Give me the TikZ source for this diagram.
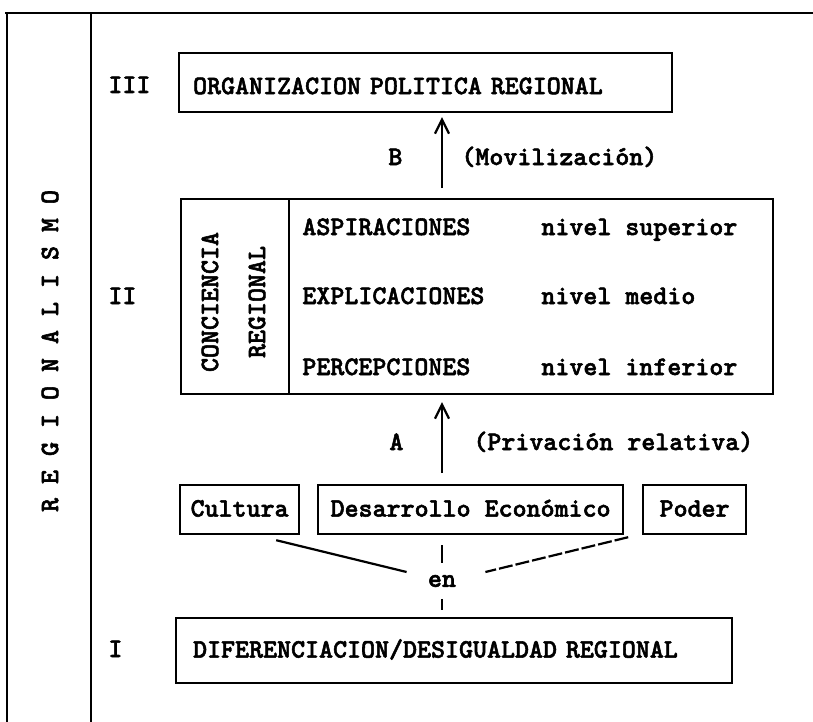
\documentclass[tikz,border=0pt]{standalone}
\usepackage{fontspec}
\usetikzlibrary{arrows.meta}
\newfontfamily\monofuente{lmmonolt10-bold.otf}[FakeBold = 2]
\newcommand{\maquina}{\monofuente\fontsize{13.33}{16}\selectfont}
\begin{document}
\begin{tikzpicture}[x = .5pt, y = -.5pt, font = \maquina, inner sep = 0pt,
    caja/.style = {draw, line width = 1.1pt, anchor = north west, text height = 7pt, text depth = 0pt},
    flecha/.style = {line width = 1.1pt, -{Straight Barb[length = 7pt, width = 7pt]}},
    raya/.style = {line width = 1.1pt}]
  \useasboundingbox (0,0) rectangle (813,722);
  % marco
  \draw [raya] (5,13) -- (813,13);
  \draw [raya] (7,13) -- (7,722);
  \draw [raya] (91,13) -- (91,722);
  \node [rotate = 90] (regionalismo) at (50,351) {R E G I O N A L I S M O};
  % niveles
  \node [anchor = base west] (n3) at (108,93) {III};
  \node [anchor = base west] (n2) at (108,304) {II};
  \node [anchor = base west] (n1) at (108,657) {I};
  \node [caja, minimum width = 246.5pt, minimum height = 29.5pt, text width = 232.5pt,
         inner xsep = 7pt, align = left, text height = 11.5pt] (iii) at (178,52) {ORGANIZACION POLITICA REGIONAL};
  \node [caja, minimum width = 54pt, minimum height = 97.5pt] (conciencia) at (180,198) {};
  \node [caja, minimum width = 242pt, minimum height = 97.5pt] (niveles) at (288,198) {};
  \node [rotate = 90] (conc) at (210,302) {CONCIENCIA};
  \node [rotate = 90] (reg) at (257,302) {REGIONAL};
  \node [anchor = base west] (aspir) at (302,235) {ASPIRACIONES};
  \node [anchor = base west] (expli) at (302,304) {EXPLICACIONES};
  \node [anchor = base west] (perce) at (302,375) {PERCEPCIONES};
  \node [anchor = base west] (nsup) at (541,235) {nivel superior};
  \node [anchor = base west] (nmed) at (541,304) {nivel medio};
  \node [anchor = base west] (ninf) at (541,375) {nivel inferior};
  \node [caja, minimum width = 59.5pt, minimum height = 24.5pt] (cultura) at (179,484) {Cultura};
  \node [caja, minimum width = 152.5pt, minimum height = 24.5pt] (desarrollo) at (317,484) {Desarrollo Económico};
  \node [caja, minimum width = 51.5pt, minimum height = 24.5pt] (poder) at (642,484) {Poder};
  \node [caja, minimum width = 278pt, minimum height = 32.5pt, text width = 261pt,
         inner xsep = 8.5pt, align = left] (i) at (175,617) {DIFERENCIACION/DESIGUALDAD REGIONAL};
  \node [inner xsep = 10.5pt, minimum height = 17.5pt] (en) at (442,581) {en};
  % flechas
  \node [anchor = base west] (b) at (388,165) {B};
  \node [anchor = base west] (movil) at (461,165) {(Movilización)};
  \node [anchor = base west] (a) at (389,450) {A};
  \node [anchor = base west] (priv) at (473,450) {(Privación relativa)};
  \draw [flecha, shorten <= 5pt, shorten >= 2pt] (niveles.north -| en) -- (iii.south -| en);
  \draw [flecha, shorten <= 5.5pt, shorten >= 3.5pt] (desarrollo.north -| en) -- (niveles.south -| en);
  \draw [raya] ([xshift = -12pt, yshift = -2.5pt]cultura.south east) -- ([yshift = 4.5pt]en.west);
  \draw [raya, dash pattern = on 7pt off 1.5pt] ([xshift = 2pt, yshift = -1pt]desarrollo.south east) -- ([xshift = 4pt, yshift = 4.5pt]en.east);
  \draw [raya, shorten <= 5pt] (desarrollo.south -| en) -- (en.north);
  \draw [raya, shorten >= 3.5pt] (en.south) -- (i.north -| en);
\end{tikzpicture}
\end{document}
